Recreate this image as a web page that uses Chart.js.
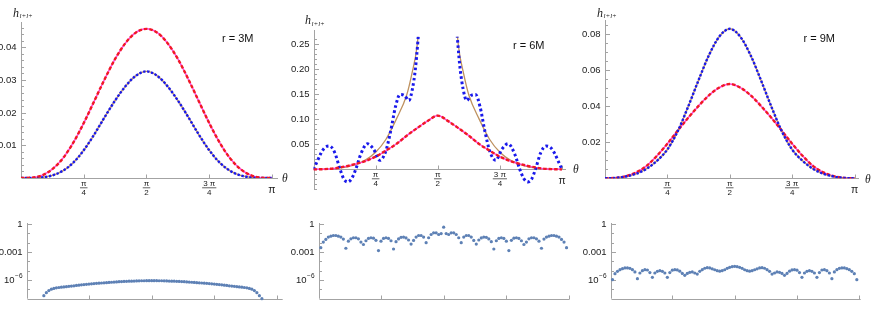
<!DOCTYPE html>
<html>
<head>
<meta charset="utf-8">
<script src="https://cdn.jsdelivr.net/npm/chart.js@4.4.1/dist/chart.umd.min.js"></script>
<style>
  html, body { margin: 0; padding: 0; background: #fff; }
  #wrap { position: relative; width: 872px; height: 316px; overflow: hidden; }
  #wrap canvas { position: absolute; }
</style>
</head>
<body>
<div id="wrap"></div>
<script>
// ---------- top row : theta in units of pi ----------
const thetaGrid = [0, 0.0417, 0.0833, 0.125, 0.1667, 0.2083, 0.25, 0.2917, 0.3333, 0.375, 0.4167, 0.4583, 0.5,
                   0.5417, 0.5833, 0.625, 0.6667, 0.7083, 0.75, 0.7917, 0.8333, 0.875, 0.9167, 0.9583, 1];

// r = 3M
const red3M  = [0, 0.0001, 0.0008, 0.0027, 0.0060, 0.0108, 0.0168, 0.0235, 0.0302, 0.0364, 0.0413, 0.0445, 0.0456,
                0.0445, 0.0413, 0.0364, 0.0302, 0.0235, 0.0168, 0.0108, 0.0060, 0.0027, 0.0008, 0.0001, 0];
const blue3M = [0, 0.00002, 0.00018, 0.0008, 0.0022, 0.0047, 0.0085, 0.0133, 0.0186, 0.0237, 0.0281, 0.0313, 0.0326,
                0.0313, 0.0281, 0.0237, 0.0186, 0.0133, 0.0085, 0.0047, 0.0022, 0.0008, 0.00018, 0.00002, 0];

// r = 6M
const red6M = [0, 0.0005, 0.0020, 0.0055, 0.0105, 0.0165, 0.0255, 0.0375, 0.0505, 0.0670, 0.0820, 0.0960, 0.1070,
               0.0960, 0.0820, 0.0670, 0.0505, 0.0375, 0.0255, 0.0165, 0.0105, 0.0055, 0.0020, 0.0005, 0];
const thetaBrownL = [0, 0.0417, 0.0833, 0.125, 0.1667, 0.2083, 0.25, 0.2917, 0.3333, 0.375, 0.3958, 0.4167, 0.43];
const brownL      = [0, 0.0003, 0.0015, 0.0040, 0.0095, 0.0185, 0.0340, 0.0600, 0.1000, 0.1480, 0.1900, 0.2450, 0.3200];
const thetaBrownR = [0.57, 0.5833, 0.6042, 0.625, 0.6667, 0.7083, 0.75, 0.7917, 0.8333, 0.875, 0.9167, 0.9583, 1];
const brownR      = [0.3200, 0.2450, 0.1900, 0.1480, 0.1000, 0.0600, 0.0340, 0.0185, 0.0095, 0.0040, 0.0015, 0.0003, 0];
const thetaBlue6M = [0, 0.015, 0.03, 0.045, 0.064, 0.085, 0.107, 0.122, 0.138, 0.154, 0.17, 0.19, 0.217, 0.242, 0.267,
                     0.29, 0.31, 0.33, 0.348, 0.366, 0.384, 0.398, 0.41, 0.42, 0.432,
                     0.568, 0.58, 0.59, 0.602, 0.616, 0.634, 0.652, 0.67, 0.69, 0.71, 0.733, 0.758, 0.783, 0.81,
                     0.83, 0.846, 0.862, 0.878, 0.893, 0.915, 0.936, 0.955, 0.97, 0.985, 1];
const blue6M = [0, 0.016, 0.032, 0.043, 0.0465, 0.034, 0, -0.019, -0.025, -0.018, 0, 0.03, 0.051, 0.04, 0.018,
                0.035, 0.075, 0.125, 0.149, 0.147, 0.137, 0.16, 0.2, 0.255, 0.34,
                0.34, 0.255, 0.2, 0.16, 0.137, 0.147, 0.149, 0.125, 0.075, 0.035, 0.018, 0.04, 0.051, 0.03,
                0, -0.018, -0.025, -0.019, 0, 0.034, 0.0465, 0.043, 0.032, 0.016, 0];

// r = 9M
const red9M  = [0, 0.0002, 0.0012, 0.0033, 0.0069, 0.0125, 0.0192, 0.0265, 0.0336, 0.0402, 0.0461, 0.0504, 0.0524,
                0.0504, 0.0461, 0.0402, 0.0336, 0.0265, 0.0192, 0.0125, 0.0069, 0.0033, 0.0012, 0.0002, 0];
const blue9M = [0, 0.0002, 0.0010, 0.0025, 0.0053, 0.0097, 0.0160, 0.0262, 0.0398, 0.0545, 0.0684, 0.0787, 0.0830,
                0.0787, 0.0684, 0.0545, 0.0398, 0.0262, 0.0160, 0.0097, 0.0053, 0.0025, 0.0010, 0.0002, 0];

// ---------- bottom row : log10 of the error, one value per index ----------
const err3MStart = 7;
const err3M = [-7.68, -7.36, -7.13, -6.98, -6.90, -6.84, -6.80, -6.77, -6.74, -6.71, -6.68, -6.65, -6.62, -6.58,
               -6.55, -6.52, -6.49, -6.46, -6.43, -6.41, -6.38, -6.36, -6.34, -6.32, -6.30, -6.28, -6.26, -6.24,
               -6.22, -6.20, -6.18, -6.17, -6.15, -6.14, -6.13, -6.12, -6.11, -6.10, -6.09, -6.08, -6.08, -6.07,
               -6.07, -6.07, -6.07, -6.07, -6.08, -6.08, -6.09, -6.10, -6.11, -6.12, -6.13, -6.14, -6.15, -6.17,
               -6.18, -6.20, -6.22, -6.24, -6.26, -6.28, -6.30, -6.32, -6.34, -6.36, -6.38, -6.41, -6.43, -6.46,
               -6.49, -6.52, -6.55, -6.58, -6.62, -6.65, -6.68, -6.71, -6.74, -6.77, -6.80, -6.84, -6.90, -6.98,
               -7.13, -7.36, -7.68, -8.00];
const err6MStart = 1;
const err6M = [-2.54, -1.94, -1.66, -1.41, -1.31, -1.24, -1.24, -1.31, -1.41, -1.62, -2.60, -1.84, -1.59, -1.48,
               -1.48, -1.59, -1.94, -2.20, -1.80, -1.55, -1.48, -1.52, -1.75, -2.85, -1.84, -1.55, -1.48, -1.55,
               -1.80, -2.68, -1.90, -1.60, -1.43, -1.41, -1.50, -1.72, -2.15, -1.76, -1.41, -1.24, -1.24, -1.41,
               -2.01, -1.48, -1.13, -0.95, -0.95, -1.13, -1.03, -0.35, -1.03, -1.13, -0.95, -0.95, -1.13, -1.48,
               -2.01, -1.41, -1.24, -1.24, -1.41, -1.76, -2.15, -1.72, -1.50, -1.41, -1.43, -1.60, -1.90, -2.68,
               -1.80, -1.55, -1.48, -1.55, -1.84, -2.85, -1.75, -1.52, -1.48, -1.55, -1.80, -2.20, -1.94, -1.59,
               -1.48, -1.48, -1.59, -1.84, -2.60, -1.62, -1.41, -1.31, -1.24, -1.24, -1.31, -1.41, -1.66, -1.94,
               -2.54];
const err9MStart = 1;
const err9M = [-5.96, -5.32, -5.07, -4.89, -4.79, -4.71, -4.71, -4.75, -4.89, -5.14, -5.86, -5.25, -5.00, -4.89,
               -4.93, -5.20, -5.71, -5.25, -5.07, -5.00, -5.07, -5.25, -5.71, -5.20, -4.95, -4.89, -4.92, -5.05,
               -5.30, -5.50, -5.30, -5.18, -5.14, -5.25, -5.36, -5.07, -4.89, -4.74, -4.68, -4.71, -4.80, -4.90,
               -5.00, -5.05, -5.00, -4.90, -4.75, -4.64, -4.57, -4.54, -4.57, -4.64, -4.75, -4.90, -5.00, -5.05,
               -5.00, -4.90, -4.80, -4.71, -4.68, -4.74, -4.89, -5.07, -5.36, -5.25, -5.14, -5.18, -5.30, -5.50,
               -5.30, -5.05, -4.92, -4.89, -4.95, -5.20, -5.71, -5.25, -5.07, -5.00, -5.07, -5.25, -5.71, -5.20,
               -4.93, -4.89, -5.00, -5.25, -5.86, -5.14, -4.89, -4.75, -4.71, -4.71, -4.79, -4.89, -5.07, -5.32,
               -5.96];

// ---------- ticks ----------
const thetaTicks = [0.25, 0.5, 0.75, 1];
const thetaTickLabels = ['π/4', 'π/2', '3 π/4', 'π'];
const yTicks3M = [0.01, 0.02, 0.03, 0.04];
const yLabels3M = ['0.01', '0.02', '0.03', '0.04'];
const yTicks6M = [0.05, 0.10, 0.15, 0.20, 0.25];
const yLabels6M = ['0.05', '0.10', '0.15', '0.20', '0.25'];
const yTicks9M = [0.02, 0.04, 0.06, 0.08];
const yLabels9M = ['0.02', '0.04', '0.06', '0.08'];
const logTicks = [0, -3, -6];
const logTickLabels = ['1', '0.001', '10^-6'];
const indexTicks = [25, 50, 75, 100];

const AXIS = '#a3a3a3';
const TEXT = '#202020';
const SANS = '"Liberation Sans", Arial, sans-serif';
const SERIF = '"Liberation Serif", "Times New Roman", serif';
const RED = 'rgb(240,25,35)', MAGENTA = 'rgb(255,70,215)';
const BLUE = 'rgb(25,25,235)', BROWN = 'rgb(190,145,95)';
const DOTS = 'rgb(94,129,181)';

function steps(from, to, step, skip) {
  const out = [];
  for (let v = from; v <= to + 1e-9; v += step) {
    const r = Math.round(v * 1e6) / 1e6;
    if (!skip.some(s => Math.abs(s - r) < 1e-9)) out.push(r);
  }
  return out;
}

function curve(xs, ys, color, width, dash, order) {
  return {
    data: xs.map((t, i) => ({ x: t, y: ys[i] })),
    showLine: true, borderColor: color, borderWidth: width, borderDash: dash || [],
    borderCapStyle: 'butt', pointRadius: 0, cubicInterpolationMode: 'monotone', fill: false, order
  };
}

function dots(start, ys) {
  return {
    data: ys.map((v, i) => ({ x: start + i, y: v })),
    showLine: false, pointRadius: 1.6, pointBorderWidth: 0,
    pointBackgroundColor: DOTS, borderColor: DOTS, clip: 4
  };
}

// Mathematica-like axes drawn by hand at the scales' pixels
const mmaAxes = {
  id: 'mmaAxes',
  beforeDatasetsDraw(chart, args, o) {
    const { ctx, chartArea: a, scales: { x, y } } = chart;
    const px = v => x.getPixelForValue(v), py = v => y.getPixelForValue(v);
    const ox = o.box.x, oy = o.box.y;
    const ax = Math.round(px(x.min)) + 0.5;
    const ay = Math.round(py(o.xAxisAt)) + 0.5;
    ctx.save();
    ctx.strokeStyle = AXIS; ctx.lineWidth = 1;
    ctx.beginPath();
    ctx.moveTo(ax, a.bottom); ctx.lineTo(ax, a.top - (o.yOver || 0));
    ctx.moveTo(ax, ay); ctx.lineTo(a.right, ay);
    o.yMinor.forEach(v => { const t = Math.round(py(v)) + 0.5; ctx.moveTo(ax, t); ctx.lineTo(ax + 2.5, t); });
    o.yTicks.forEach(v => { const t = Math.round(py(v)) + 0.5; ctx.moveTo(ax, t); ctx.lineTo(ax + 4.5, t); });
    o.xTicks.forEach(v => { const t = Math.round(px(v)) + 0.5; ctx.moveTo(t, ay); ctx.lineTo(t, ay - 4); });
    ctx.stroke();

    ctx.fillStyle = TEXT;
    ctx.textBaseline = 'middle';
    // y tick labels
    o.yTicks.forEach((v, i) => {
      const s = o.yLabels[i], yy = py(v), right = ax - 5;
      if (s.includes('^')) {
        const [base, sup] = s.split('^');
        ctx.font = '6.5px ' + SANS; ctx.textAlign = 'right';
        const supTxt = sup.replace('-', '\u2212');
        ctx.fillText(supTxt, right, yy - 3.5);
        const w = ctx.measureText(supTxt).width;
        ctx.font = '9.5px ' + SANS;
        ctx.fillText(base, right - w - 0.5, yy + 0.5);
      } else {
        ctx.font = '9.5px ' + SANS; ctx.textAlign = 'right';
        ctx.fillText(s, right, yy + 0.5);
      }
    });
    // x tick labels (fractions of pi)
    if (o.xLabels) {
      ctx.textAlign = 'center';
      o.xTicks.forEach((v, i) => {
        const s = o.xLabels[i], cx = px(v);
        if (s.includes('/')) {
          const [num, den] = s.split('/');
          ctx.font = '8px ' + SANS;
          ctx.fillText(num, cx, ay + 5);
          ctx.fillText(den, cx, ay + 14.5);
          const w = Math.max(ctx.measureText(num).width, ctx.measureText(den).width) + 2;
          ctx.fillRect(cx - w / 2, ay + 9, w, 0.7);
        } else {
          ctx.font = '10.5px ' + SANS;
          ctx.fillText(s, cx, ay + 12);
        }
      });
    }
    // axis labels and panel title
    if (o.hPos) {
      ctx.textAlign = 'left'; ctx.textBaseline = 'alphabetic';
      ctx.font = 'italic 12px ' + SERIF;
      ctx.fillText('h', o.hPos[0] - ox, o.hPos[1] - oy);
      const hw = ctx.measureText('h').width;
      ctx.font = 'italic 7px ' + SERIF;
      ctx.fillText('l+l+', o.hPos[0] - ox + hw + 0.5, o.hPos[1] - oy + 1.5);
      ctx.textBaseline = 'middle';
      ctx.font = 'italic 11.5px ' + SERIF;
      ctx.fillText('θ', o.thetaPos[0] - ox, o.thetaPos[1] - oy);
      ctx.textBaseline = 'alphabetic';
      ctx.font = '11px ' + SANS; ctx.fillStyle = '#111';
      ctx.fillText(o.title, o.titlePos[0] - ox, o.titlePos[1] - oy);
    }
    ctx.restore();
  }
};

function panel(box, area, sx, sy, datasets, axes) {
  const c = document.createElement('canvas');
  c.width = box.w; c.height = box.h;
  c.style.left = box.x + 'px'; c.style.top = box.y + 'px';
  c.style.width = box.w + 'px'; c.style.height = box.h + 'px';
  document.getElementById('wrap').appendChild(c);
  axes.box = box;
  return new Chart(c, {
    type: 'scatter',
    data: { datasets },
    options: {
      responsive: false, animation: false, events: [], devicePixelRatio: 1,
      layout: { padding: { left: area.l - box.x, right: box.x + box.w - area.r, top: area.t - box.y, bottom: box.y + box.h - area.b } },
      plugins: { legend: { display: false }, tooltip: { enabled: false }, mmaAxes: axes },
      scales: {
        x: { type: 'linear', display: false, min: sx[0], max: sx[1] },
        y: { type: 'linear', display: false, min: sy[0], max: sy[1] }
      }
    },
    plugins: [mmaAxes]
  });
}

// ----- top row -----
panel({ x: 0, y: 0, w: 290, h: 205 }, { l: 21, r: 278, t: 22, b: 178 }, [0, 1.024], [0, 0.0477], [
  curve(thetaGrid, red3M, RED, 2.4, [3.5, 2], 1),
  curve(thetaGrid, blue3M, BLUE, 2.4, [2.4, 1.6], 1),
  curve(thetaGrid, red3M, MAGENTA, 1.5, null, 2),
  curve(thetaGrid, blue3M, BROWN, 1.4, null, 2)
], {
  xAxisAt: 0, yTicks: yTicks3M, yLabels: yLabels3M, yMinor: steps(0.002, 0.046, 0.002, yTicks3M),
  xTicks: thetaTicks, xLabels: thetaTickLabels,
  hPos: [13, 16.5], thetaPos: [282, 179], title: 'r = 3M', titlePos: [222, 42]
});

panel({ x: 290, y: 0, w: 290, h: 205 }, { l: 313.5, r: 566, t: 36.7, b: 190 }, [0, 1.016], [-0.041, 0.264], [
  curve(thetaGrid, red6M, RED, 2.4, [3.5, 2], 1),
  curve(thetaBlue6M.slice(0, 25), blue6M.slice(0, 25), BLUE, 3, [2.6, 2.6], 1),
  curve(thetaBlue6M.slice(25), blue6M.slice(25), BLUE, 3, [2.6, 2.6], 1),
  curve(thetaGrid, red6M, MAGENTA, 1.5, null, 2),
  curve(thetaBrownL, brownL, BROWN, 1.3, null, 2),
  curve(thetaBrownR, brownR, BROWN, 1.3, null, 2)
], {
  xAxisAt: 0, yTicks: yTicks6M, yLabels: yLabels6M, yMinor: steps(-0.04, 0.26, 0.01, yTicks6M.concat([0])),
  xTicks: thetaTicks, xLabels: thetaTickLabels, yOver: 6.7,
  hPos: [305, 24], thetaPos: [573, 170], title: 'r = 6M', titlePos: [513, 49]
});

panel({ x: 580, y: 0, w: 292, h: 205 }, { l: 605, r: 859, t: 20, b: 178.3 }, [0, 1.018], [0, 0.0879], [
  curve(thetaGrid, blue9M, BLUE, 2.4, [2.4, 1.6], 1),
  curve(thetaGrid, red9M, RED, 2.4, [3.5, 2], 1),
  curve(thetaGrid, blue9M, BROWN, 1.4, null, 2),
  curve(thetaGrid, red9M, MAGENTA, 1.5, null, 2)
], {
  xAxisAt: 0, yTicks: yTicks9M, yLabels: yLabels9M, yMinor: steps(0.005, 0.085, 0.005, yTicks9M),
  xTicks: thetaTicks, xLabels: thetaTickLabels,
  hPos: [597, 16.5], thetaPos: [865, 180], title: 'r = 9M', titlePos: [803.5, 41.5]
});

// ----- bottom row -----
const logMinor = [-1, -2, -4, -5, -7];
panel({ x: 0, y: 205, w: 290, h: 111 }, { l: 27.3, r: 282.7, t: 223, b: 298.7 }, [0.4, 102.3], [-8, 0.1],
  [dots(err3MStart, err3M)],
  { xAxisAt: -8, yTicks: logTicks, yLabels: logTickLabels, yMinor: logMinor, xTicks: indexTicks });

panel({ x: 290, y: 205, w: 290, h: 111 }, { l: 319.3, r: 569.3, t: 223, b: 298.7 }, [0.4, 100.1], [-8, 0.1],
  [dots(err6MStart, err6M)],
  { xAxisAt: -8, yTicks: logTicks, yLabels: logTickLabels, yMinor: logMinor, xTicks: indexTicks });

panel({ x: 580, y: 205, w: 292, h: 111 }, { l: 611, r: 860.7, t: 223, b: 298.7 }, [0.4, 100.56], [-8, 0.1],
  [dots(err9MStart, err9M)],
  { xAxisAt: -8, yTicks: logTicks, yLabels: logTickLabels, yMinor: logMinor, xTicks: indexTicks });
</script>
</body>
</html>
